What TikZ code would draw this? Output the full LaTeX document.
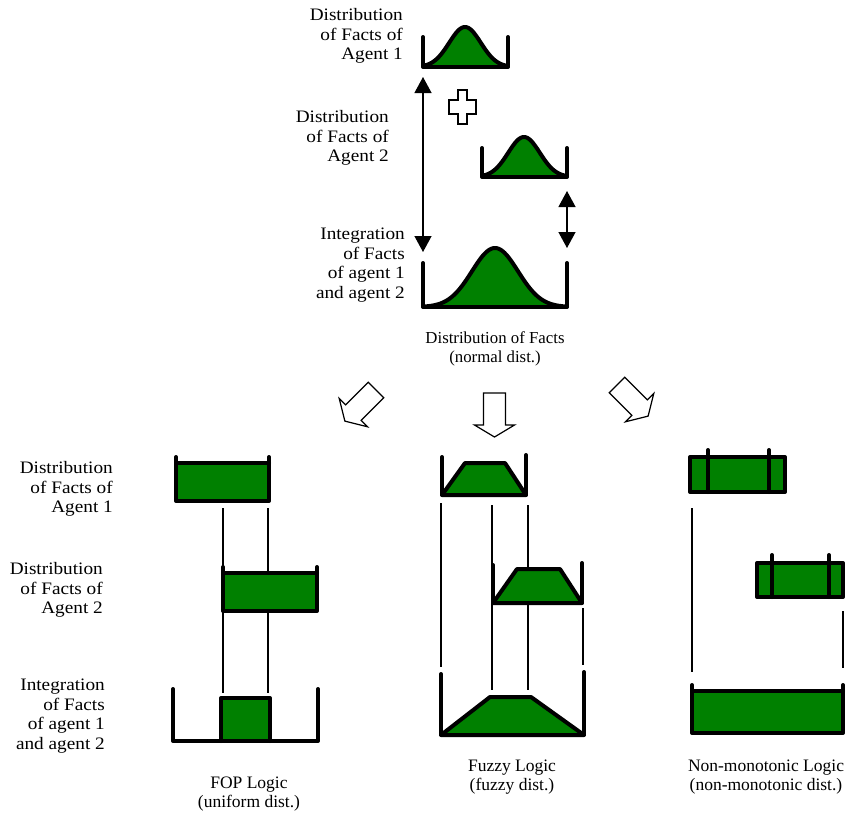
\documentclass[tikz,border=0pt]{standalone}
\usepackage{fontspec}
\setmainfont{Liberation Serif}
\newfontfamily\labfont{Liberation Serif}[FakeStretch=1.1]
\usetikzlibrary{arrows.meta}
\definecolor{fgreen}{RGB}{0,128,0}
\tikzset{
  thk/.style={line width=4pt, line join=round, line cap=round},
  thn/.style={line width=1.2pt},
  lab/.style={font=\labfont\fontsize{17.5}{19.5}\selectfont, align=right, inner sep=0pt, anchor=east},
  capt/.style={font=\fontsize{17.5}{19.5}\selectfont, align=center, inner sep=0pt},
  hol/.style={draw, line width=1.2pt, fill=white, line join=miter},
  dbl/.style={line width=1.3pt, {Triangle[width=17pt,length=16pt]}-{Triangle[width=17pt,length=16pt]}},
  grn/.style={fill=fgreen}
}
\begin{document}
\begin{tikzpicture}[x=1pt,y=1pt]
\useasboundingbox (0,0) rectangle (859,-820);

% ---------- labels ----------
\node[lab] (t1) at (403,-36) {Distribution\\of Facts of\\Agent 1};
\node[lab] (t2) at (389,-138) {Distribution\\of Facts of\\Agent 2};
\node[lab] (t3) at (405,-265) {Integration\\of Facts\\of agent 1\\and agent 2};
\node[capt, font=\fontsize{16.8}{19.5}\selectfont] (cn) at (495,-349) {Distribution of Facts\\(normal dist.)};

\node[lab] (b1) at (113,-489) {Distribution\\of Facts of\\Agent 1};
\node[lab] (b2) at (103,-590) {Distribution\\of Facts of\\Agent 2};
\node[lab] (b3) at (105,-716) {Integration\\of Facts\\of agent 1\\and agent 2};

\node[capt] (c1) at (249,-794) {FOP Logic\\(uniform dist.)};
\node[capt] (c2) at (512,-777) {Fuzzy Logic\\(fuzzy dist.)};
\node[capt] (c3) at (766,-777) {Non-monotonic Logic\\(non-monotonic dist.)};

% ---------- top bells ----------
% agent 1
\fill[grn] (423,-67) -- plot[domain=423:508, samples=80] (\x,{-(67-40*exp(-0.5*((\x-465)/15.8)*((\x-465)/15.8)))}) -- (508,-67) -- cycle;
\draw[thk] plot[domain=423:508, samples=80] (\x,{-(67-40*exp(-0.5*((\x-465)/15.8)*((\x-465)/15.8)))});
\draw[thk] (423,-37) -- (423,-67) -- (508,-67) -- (508,-37);
% agent 2
\fill[grn] (482,-177) -- plot[domain=482:567, samples=80] (\x,{-(177-40*exp(-0.5*((\x-524)/15.8)*((\x-524)/15.8)))}) -- (567,-177) -- cycle;
\draw[thk] plot[domain=482:567, samples=80] (\x,{-(177-40*exp(-0.5*((\x-524)/15.8)*((\x-524)/15.8)))});
\draw[thk] (482,-148) -- (482,-177) -- (567,-177) -- (567,-148);
% integration
\fill[grn] (423,-307) -- plot[domain=423:567, samples=100] (\x,{-(307-59*exp(-0.5*((\x-495)/23)*((\x-495)/23)))}) -- (567,-307) -- cycle;
\draw[thk] plot[domain=423:567, samples=100] (\x,{-(307-59*exp(-0.5*((\x-495)/23)*((\x-495)/23)))});
\draw[thk] (423,-263) -- (423,-307) -- (567,-307) -- (567,-263);

% arrows
\coordinate (a1) at (423,-77);
\coordinate (a2) at (423,-252);
\draw[dbl] (a1) -- (a2);
\coordinate (s1) at (567,-191);
\coordinate (s2) at (567,-248);
\draw[dbl] (s1) -- (s2);

% hollow plus
\draw[hol] (458,-90) -- (467,-90) -- (467,-100) -- (476,-100) -- (476,-114) -- (467,-114)
  -- (467,-124) -- (458,-124) -- (458,-114) -- (449,-114) -- (449,-100) -- (458,-100) -- cycle;

% hollow block arrows
\foreach \px/\py/\ang in {376/-390/-45, 494.5/-393/0, 617/-385/45}{
  \begin{scope}[shift={(\px,\py)}, rotate=\ang]
    \draw[hol] (-11,0) -- (11,0) -- (11,-32) -- (20,-32) -- (0,-44) -- (-20,-32) -- (-11,-32) -- cycle;
  \end{scope}
}

% ---------- FOP column ----------
\draw[thn] (223,-508) -- (223,-693);
\draw[thn] (268,-508) -- (268,-693);
\fill[grn] (176,-463) rectangle (269,-501);
\draw[thk] (176,-457) -- (176,-501) -- (269,-501) -- (269,-457);
\draw[thk] (176,-463) -- (269,-463);
\fill[grn] (223,-573) rectangle (317,-611);
\draw[thk] (223,-567) -- (223,-611) -- (317,-611) -- (317,-567);
\draw[thk] (223,-573) -- (317,-573);
\fill[grn] (221,-698) rectangle (270,-741);
\draw[thk] (221,-741) -- (221,-698) -- (270,-698) -- (270,-741);
\draw[thk] (173,-689) -- (173,-741) -- (318,-741) -- (318,-689);

% ---------- Fuzzy column ----------
\draw[thn] (441,-503) -- (441,-667);
\draw[thn] (492,-505) -- (492,-690);
\draw[thn] (528,-505) -- (528,-690);
\draw[thn] (583,-608) -- (583,-665);
\filldraw[grn, thk] (442,-495) -- (465,-463) -- (505,-463) -- (526,-495) -- cycle;
\draw[thk] (442,-457) -- (442,-495) -- (526,-495) -- (526,-455);
\filldraw[grn, thk] (493,-603) -- (517,-569) -- (560,-569) -- (582,-603) -- cycle;
\draw[thk] (493,-565) -- (493,-603) -- (582,-603) -- (582,-563);
\filldraw[grn, thk] (441,-735) -- (490,-697) -- (531,-697) -- (584,-735) -- cycle;
\draw[thk] (441,-674) -- (441,-735) -- (584,-735) -- (584,-672);

% ---------- Non-monotonic column ----------
\draw[thn] (692,-508) -- (692,-672);
\draw[thn] (843,-611) -- (843,-668);
\filldraw[grn, thk] (690,-457) rectangle (785,-492);
\draw[thk] (708,-450) -- (708,-492);
\draw[thk] (769,-450) -- (769,-492);
\filldraw[grn, thk] (757,-563) rectangle (843,-597);
\draw[thk] (772,-555) -- (772,-597);
\draw[thk] (829,-555) -- (829,-597);
\fill[grn] (692,-691) rectangle (843,-733);
\draw[thk] (692,-685) -- (692,-733) -- (843,-733) -- (843,-685);
\draw[thk] (692,-691) -- (843,-691);
\end{tikzpicture}
\end{document}
